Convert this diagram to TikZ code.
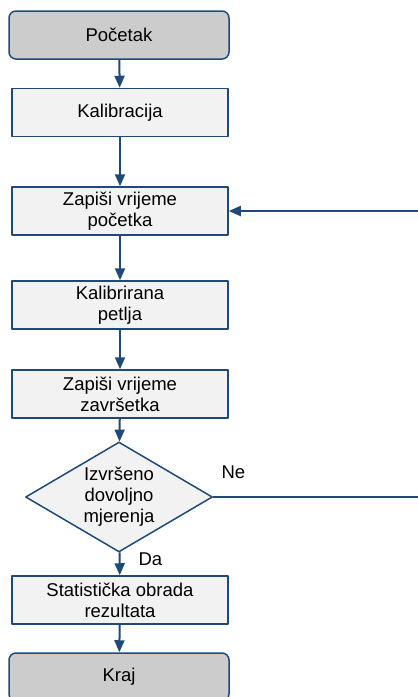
\documentclass[tikz,border=0pt]{standalone}
\usepackage{fontspec}
\setmainfont{Liberation Sans}
\usetikzlibrary{arrows.meta,shapes.geometric}
\definecolor{FlowBlue}{HTML}{1F4A78}
\definecolor{BoxFill}{HTML}{F2F2F2}
\definecolor{TermFill}{HTML}{CCCCCC}

\begin{document}
\begin{tikzpicture}[x=1pt,y=-1pt,line join=round,
    font=\fontsize{18.5}{21}\selectfont,
    procbox/.style={draw=FlowBlue,fill=BoxFill,line width=1.5pt,minimum width=216pt,minimum height=48pt,inner sep=0pt,align=center},
    termbox/.style={procbox,fill=TermFill,rounded corners=7pt,minimum width=220pt},
    decbox/.style={draw=FlowBlue,fill=BoxFill,line width=1.5pt,diamond,aspect=1.7,minimum width=187pt,minimum height=110pt,inner sep=0pt,align=center},
    flow/.style={draw=FlowBlue,line width=2pt,-{Triangle[width=10pt,length=12pt]}}]
  \clip (0,0) rectangle (418,697);
  \useasboundingbox (0,0) rectangle (418,697);
  \node[termbox] (start) at (119,35) {Početak};
  \node[procbox] (calib) at (120,112.5) {Kalibracija};
  \node[procbox] (tbegin) at (120,211) {Zapiši vrijeme\\početka};
  \node[procbox] (loop) at (120,305) {Kalibrirana\\petlja};
  \node[procbox] (tend) at (120,394) {Zapiši vrijeme\\završetka};
  \node[decbox] (check) at (119,497) {Izvršeno\\dovoljno\\mjerenja};
  \node[procbox] (stats) at (120,600) {Statistička obrada\\rezultata};
  \node[termbox] (stop) at (119,677) {Kraj};
  \coordinate (backR) at (432,497);
  \draw[flow] (start) -- (calib);
  \draw[flow] (calib) -- (tbegin);
  \draw[flow] (tbegin) -- (loop);
  \draw[flow] (loop) -- (tend);
  \draw[flow] (tend) -- (check);
  \draw[flow] (check) -- (stats);
  \draw[flow] (stats) -- (stop);
  \draw[flow] (check.east) -- (backR) |- (tbegin.east);
  \node[anchor=west] (no) at (218,472) {Ne};
  \node[anchor=west] (yes) at (135,559) {Da};
\end{tikzpicture}
\end{document}
